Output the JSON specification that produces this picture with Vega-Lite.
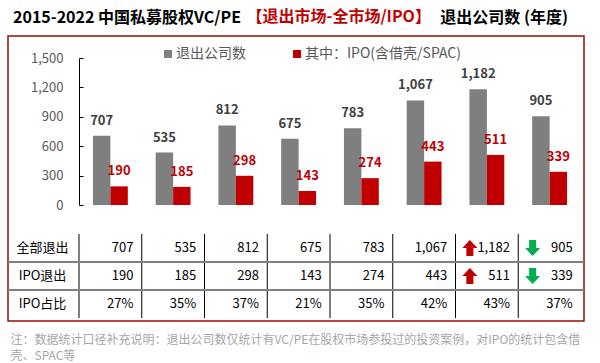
{
  "$schema": "https://vega.github.io/schema/vega-lite/v6.json",
  "width": 576,
  "height": 285,
  "autosize": {"type": "none"},
  "padding": {"left": 8, "top": 36, "right": 16, "bottom": 42},
  "background": "white",
  "config": {
    "font": "Noto Sans CJK SC",
    "view": {"stroke": "#9C0A0A", "strokeWidth": 1.5}
  },
  "title": {
    "text": "2015-2022 中国私募股权VC/PE\u3000\u3000\u3000\u3000\u3000\u3000\u3000\u3000\u3000\u3000\u3000\u3000\u00a0\u00a0退出公司数 (年度)",
    "anchor": "start",
    "frame": "group",
    "offset": 10,
    "dx": 5,
    "dy": 41,
    "fontSize": 16,
    "fontWeight": "bold",
    "color": "#000000",
    "baseline": "alphabetic",
    "limit": 1000
  },
  "datasets": {
    "bars": [
      {"year": 2015, "series": "退出公司数", "value": 707},
      {"year": 2015, "series": "其中：IPO(含借壳/SPAC)", "value": 190},
      {"year": 2016, "series": "退出公司数", "value": 535},
      {"year": 2016, "series": "其中：IPO(含借壳/SPAC)", "value": 185},
      {"year": 2017, "series": "退出公司数", "value": 812},
      {"year": 2017, "series": "其中：IPO(含借壳/SPAC)", "value": 298},
      {"year": 2018, "series": "退出公司数", "value": 675},
      {"year": 2018, "series": "其中：IPO(含借壳/SPAC)", "value": 143},
      {"year": 2019, "series": "退出公司数", "value": 783},
      {"year": 2019, "series": "其中：IPO(含借壳/SPAC)", "value": 274},
      {"year": 2020, "series": "退出公司数", "value": 1067},
      {"year": 2020, "series": "其中：IPO(含借壳/SPAC)", "value": 443},
      {"year": 2021, "series": "退出公司数", "value": 1182},
      {"year": 2021, "series": "其中：IPO(含借壳/SPAC)", "value": 511},
      {"year": 2022, "series": "退出公司数", "value": 905},
      {"year": 2022, "series": "其中：IPO(含借壳/SPAC)", "value": 339}
    ],
    "table": [
      {"year": 2015, "row": "全部退出", "text": "707"},
      {"year": 2016, "row": "全部退出", "text": "535"},
      {"year": 2017, "row": "全部退出", "text": "812"},
      {"year": 2018, "row": "全部退出", "text": "675"},
      {"year": 2019, "row": "全部退出", "text": "783"},
      {"year": 2020, "row": "全部退出", "text": "1,067"},
      {"year": 2021, "row": "全部退出", "text": "1,182", "change": "up"},
      {"year": 2022, "row": "全部退出", "text": "905", "change": "down"},
      {"year": 2015, "row": "IPO退出", "text": "190"},
      {"year": 2016, "row": "IPO退出", "text": "185"},
      {"year": 2017, "row": "IPO退出", "text": "298"},
      {"year": 2018, "row": "IPO退出", "text": "143"},
      {"year": 2019, "row": "IPO退出", "text": "274"},
      {"year": 2020, "row": "IPO退出", "text": "443"},
      {"year": 2021, "row": "IPO退出", "text": "511", "change": "up"},
      {"year": 2022, "row": "IPO退出", "text": "339", "change": "down"},
      {"year": 2015, "row": "IPO占比", "text": "27%"},
      {"year": 2016, "row": "IPO占比", "text": "35%"},
      {"year": 2017, "row": "IPO占比", "text": "37%"},
      {"year": 2018, "row": "IPO占比", "text": "21%"},
      {"year": 2019, "row": "IPO占比", "text": "35%"},
      {"year": 2020, "row": "IPO占比", "text": "42%"},
      {"year": 2021, "row": "IPO占比", "text": "43%"},
      {"year": 2022, "row": "IPO占比", "text": "37%"}
    ]
  },
  "layer": [
    {
      "data": {"name": "bars"},
      "layer": [
        {
          "mark": {"type": "bar"},
          "encoding": {
            "x": {
              "field": "year", "type": "ordinal",
              "scale": {"type": "band", "range": [71, 573], "paddingInner": 0, "paddingOuter": 0},
              "axis": {
                "orient": "bottom", "offset": -116, "ticks": false,
                "domainColor": "#D9D9D9", "domainWidth": 1.5,
                "labelPadding": 12, "labelColor": "#595959", "labelFontSize": 13, "labelAngle": 0,
                "title": null
              }
            },
            "xOffset": {
              "field": "series", "type": "nominal",
              "scale": {"domain": ["退出公司数", "其中：IPO(含借壳/SPAC)"], "paddingInner": 0, "paddingOuter": 0.8}
            },
            "y": {
              "field": "value", "type": "quantitative",
              "scale": {"domain": [0, 1500], "range": [169, 22], "nice": false, "zero": true},
              "axis": {
                "orient": "left", "offset": -71,
                "values": [0, 300, 600, 900, 1200, 1500], "format": ",d",
                "grid": false, "domainColor": "#000000", "domainWidth": 1,
                "tickColor": "#000000", "tickSize": -4, "labelPadding": 20,
                "labelColor": "#595959", "labelFontSize": 13,
                "title": "【退出市场-全市场/IPO】", "titleAngle": 0, "titleX": 167, "titleY": -15,
                "titleAlign": "left", "titleBaseline": "alphabetic", "titleColor": "#C00000",
                "titleFontSize": 16, "titleFontWeight": "bold"
              }
            },
            "color": {
              "field": "series", "type": "nominal",
              "scale": {"domain": ["退出公司数", "其中：IPO(含借壳/SPAC)"], "range": ["#7F7F7F", "#C00000"]},
              "legend": {
                "orient": "none", "legendX": 153, "legendY": 11, "direction": "horizontal",
                "title": null, "symbolType": "square", "symbolSize": 64, "symbolStrokeWidth": 0,
                "labelFontSize": 14, "labelColor": "#595959", "columnPadding": 44,
                "labelOffset": 1, "padding": 0, "labelLimit": 300
              }
            }
          }
        },
        {
          "transform": [{"filter": "datum.series === '退出公司数'"}],
          "mark": {"type": "text", "fontWeight": "bold", "fontSize": 13, "color": "#404040", "baseline": "middle", "dy": -15},
          "encoding": {
            "x": {"field": "year", "type": "ordinal", "axis": null},
            "xOffset": {"field": "series", "type": "nominal"},
            "y": {"field": "value", "type": "quantitative"},
            "text": {"field": "value", "type": "quantitative", "format": ","}
          }
        },
        {
          "transform": [{"filter": "datum.series !== '退出公司数'"}],
          "mark": {"type": "text", "fontWeight": "bold", "fontSize": 13, "color": "#C00000", "baseline": "middle", "dy": -15},
          "encoding": {
            "x": {"field": "year", "type": "ordinal", "axis": null},
            "xOffset": {"field": "series", "type": "nominal"},
            "y": {"field": "value", "type": "quantitative"},
            "text": {"field": "value", "type": "quantitative", "format": ","}
          }
        }
      ]
    },
    {
      "data": {"name": "table"},
      "layer": [
        {
          "mark": {"type": "tick", "orient": "vertical", "size": 28, "thickness": 1, "color": "#000000", "opacity": 1},
          "encoding": {
            "x": {"field": "year", "type": "ordinal", "bandPosition": 0, "axis": null},
            "y": {
              "field": "row", "type": "nominal",
              "scale": {"type": "band", "domain": ["全部退出", "IPO退出", "IPO占比"], "range": [198, 282], "paddingInner": 0, "paddingOuter": 0},
              "axis": {
                "orient": "left", "offset": -71, "domain": false, "ticks": false, "tickSize": 0, "grid": false,
                "labelAlign": "center", "labelPadding": 37, "labelColor": "#000000", "labelFontSize": 13,
                "title": ["注：数据统计口径补充说明：退出公司数仅统计有VC/PE在股权市场参投过的投资案例，对IPO的统计包含借", "壳、SPAC等"],
                "titleAngle": 0, "titleX": -69, "titleY": 307,
                "titleAlign": "left", "titleBaseline": "alphabetic", "titleColor": "#A6A6A6",
                "titleFontSize": 12, "titleFontWeight": "normal", "titleLineHeight": 16, "titleLimit": 1000
              }
            }
          }
        },
        {
          "data": {"values": [{"row": "IPO退出"}, {"row": "IPO占比"}]},
          "mark": {"type": "rule", "color": "#7F7F7F", "strokeWidth": 2},
          "encoding": {
            "y": {"field": "row", "type": "nominal", "bandPosition": 0}
          }
        },
        {
          "mark": {"type": "text", "align": "right", "baseline": "middle", "dx": 23, "fontSize": 13, "color": "#000000"},
          "encoding": {
            "x": {"field": "year", "type": "ordinal", "axis": null},
            "y": {"field": "row", "type": "nominal"},
            "text": {"field": "text"}
          }
        },
        {
          "transform": [{"filter": "datum.change === 'up'"}],
          "mark": {"type": "point", "shape": "M0,-1L0.94,0L0.44,0L0.44,1L-0.44,1L-0.44,0L-0.94,0Z", "filled": true, "color": "#C00000", "size": 256, "opacity": 1, "strokeWidth": 0, "xOffset": -17},
          "encoding": {
            "x": {"field": "year", "type": "ordinal", "axis": null},
            "y": {"field": "row", "type": "nominal"}
          }
        },
        {
          "transform": [{"filter": "datum.change === 'down'"}],
          "mark": {"type": "point", "shape": "M0,1L0.94,0L0.44,0L0.44,-1L-0.44,-1L-0.44,0L-0.94,0Z", "filled": true, "color": "#00B050", "size": 256, "opacity": 1, "strokeWidth": 0, "xOffset": -17},
          "encoding": {
            "x": {"field": "year", "type": "ordinal", "axis": null},
            "y": {"field": "row", "type": "nominal"}
          }
        }
      ]
    }
  ],
  "resolve": {"scale": {"y": "independent"}}
}
